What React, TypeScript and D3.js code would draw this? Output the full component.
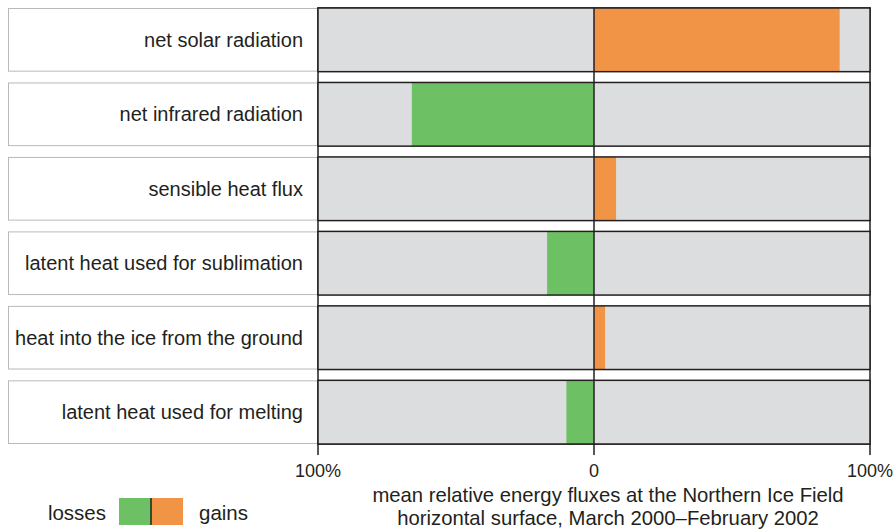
import { useEffect, useRef } from 'react';
import { select, scaleLinear, scaleBand } from 'd3';

const categories = [
  'net solar radiation',
  'net infrared radiation',
  'sensible heat flux',
  'latent heat used for sublimation',
  'heat into the ice from the ground',
  'latent heat used for melting',
];
// percent of total; negative = loss, positive = gain
const fluxes = [89, -66, 8, -17, 4, -10];
const tickValues = [-100, 0, 100];
const tickLabels = ['100%', '0', '100%'];
const titleLines = [
  'mean relative energy fluxes at the Northern Ice Field',
  'horizontal surface, March 2000\u2013February 2002',
];
const legendLabels = ['losses', 'gains'];

const GAIN = '#f29445';
const LOSS = '#6dc164';
const BACK = '#dcdddf';
const INK = '#231f20';
const FONT = '"Liberation Sans", Arial, Helvetica, sans-serif';

export default function App() {
  const svgRef = useRef<SVGSVGElement | null>(null);

  useEffect(() => {
    document.body.style.margin = '0';
    if (!svgRef.current) return;
    const svg = select(svgRef.current);
    svg.selectAll('*').remove();

    const width = 893;
    const height = 529;
    const plot = { left: 318, right: 870, top: 8, bottom: 444 };
    const labelLeft = 8;

    const x = scaleLinear().domain([-100, 100]).range([plot.left, plot.right]);
    const y = scaleBand<string>()
      .domain(categories)
      .range([plot.top, plot.bottom])
      .paddingInner(0.145)
      .paddingOuter(0);

    svg.attr('viewBox', `0 0 ${width} ${height}`).style('font-family', FONT);

    // label boxes
    const rows = svg.append('g');
    rows
      .selectAll('rect.label')
      .data(categories)
      .join('rect')
      .attr('class', 'label')
      .attr('x', labelLeft + 0.5)
      .attr('y', (d) => (y(d) ?? 0) + 0.5)
      .attr('width', plot.left - labelLeft - 0.5)
      .attr('height', y.bandwidth() - 1)
      .attr('fill', '#fff')
      .attr('stroke', '#b9b9b9')
      .attr('stroke-width', 1);

    rows
      .selectAll('text.label')
      .data(categories)
      .join('text')
      .attr('class', 'label')
      .attr('x', 303)
      .attr('y', (d) => (y(d) ?? 0) + y.bandwidth() / 2 + 7)
      .attr('text-anchor', 'end')
      .attr('font-size', 20)
      .attr('fill', INK)
      .text((d) => d);

    // plot frame (white gaps between rows)
    svg
      .append('rect')
      .attr('x', plot.left)
      .attr('y', plot.top)
      .attr('width', plot.right - plot.left)
      .attr('height', plot.bottom - plot.top)
      .attr('fill', '#fff')
      .attr('stroke', INK)
      .attr('stroke-width', 1.5);

    // row backgrounds
    svg
      .append('g')
      .selectAll('rect')
      .data(categories)
      .join('rect')
      .attr('x', plot.left)
      .attr('y', (d) => y(d) ?? 0)
      .attr('width', plot.right - plot.left)
      .attr('height', y.bandwidth())
      .attr('fill', BACK);

    // bars
    svg
      .append('g')
      .selectAll('rect')
      .data(fluxes)
      .join('rect')
      .attr('x', (v) => x(Math.min(0, v)))
      .attr('y', (_, i) => y(categories[i]) ?? 0)
      .attr('width', (v) => Math.abs(x(v) - x(0)))
      .attr('height', y.bandwidth())
      .attr('fill', (v) => (v < 0 ? LOSS : GAIN));

    // row outlines
    svg
      .append('g')
      .selectAll('rect')
      .data(categories)
      .join('rect')
      .attr('x', plot.left)
      .attr('y', (d) => y(d) ?? 0)
      .attr('width', plot.right - plot.left)
      .attr('height', y.bandwidth())
      .attr('fill', 'none')
      .attr('stroke', INK)
      .attr('stroke-width', 1.5);

    // zero line + axis ticks
    const axis = svg.append('g');
    axis
      .append('line')
      .attr('x1', x(0))
      .attr('x2', x(0))
      .attr('y1', plot.top)
      .attr('y2', plot.bottom)
      .attr('stroke', INK)
      .attr('stroke-width', 1.5);
    axis
      .selectAll('line.tick')
      .data(tickValues)
      .join('line')
      .attr('class', 'tick')
      .attr('x1', (d) => x(d))
      .attr('x2', (d) => x(d))
      .attr('y1', plot.bottom)
      .attr('y2', plot.bottom + 11)
      .attr('stroke', INK)
      .attr('stroke-width', 1.5);
    axis
      .selectAll('text')
      .data(tickValues)
      .join('text')
      .attr('x', (d) => x(d))
      .attr('y', 477)
      .attr('text-anchor', 'middle')
      .attr('font-size', 18)
      .attr('fill', INK)
      .text((_, i) => tickLabels[i]);

    // axis title (second line sits at the bottom edge, as in the source)
    svg
      .append('g')
      .selectAll('text')
      .data(titleLines)
      .join('text')
      .attr('x', 608)
      .attr('y', (_, i) => 502 + i * 23)
      .attr('text-anchor', 'middle')
      .attr('font-size', 20.3)
      .attr('fill', INK)
      .text((d) => d);

    // legend
    const legend = svg.append('g');
    legend
      .append('rect')
      .attr('x', 119)
      .attr('y', 498)
      .attr('width', 32)
      .attr('height', 27)
      .attr('fill', LOSS);
    legend
      .append('rect')
      .attr('x', 151)
      .attr('y', 498)
      .attr('width', 32)
      .attr('height', 27)
      .attr('fill', GAIN);
    legend
      .append('line')
      .attr('x1', 151)
      .attr('x2', 151)
      .attr('y1', 498)
      .attr('y2', 525)
      .attr('stroke', INK)
      .attr('stroke-width', 1.5);
    legend
      .append('text')
      .attr('x', 106)
      .attr('y', 520)
      .attr('text-anchor', 'end')
      .attr('font-size', 20.5)
      .attr('fill', INK)
      .text(legendLabels[0]);
    legend
      .append('text')
      .attr('x', 199)
      .attr('y', 520)
      .attr('font-size', 20.5)
      .attr('fill', INK)
      .text(legendLabels[1]);
  }, []);

  return (
    <svg
      ref={svgRef}
      width={893}
      height={529}
      style={{ display: 'block' }}
      role="img"
      aria-label="Relative energy fluxes"
    />
  );
}
